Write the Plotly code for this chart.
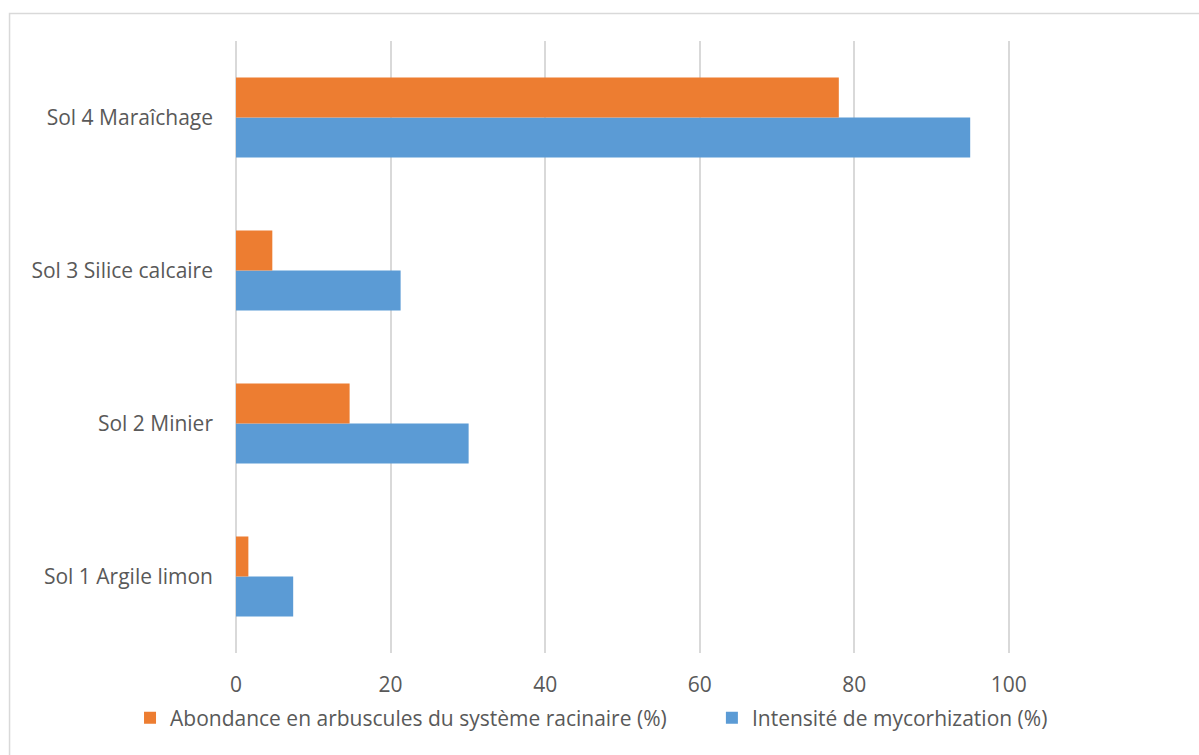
import plotly.graph_objects as go

categories = ["Sol 1 Argile limon", "Sol 2 Minier", "Sol 3 Silice calcaire", "Sol 4 Maraîchage"]
intensite = [7.4, 30.1, 21.3, 95.0]
abondance = [1.6, 14.7, 4.7, 78.0]
x_ticks = [0, 20, 40, 60, 80, 100]

FONT = "Open Sans"
TXT = "#595959"
GRID = "#d9d9d9"
FS = 21

fig = go.Figure()
fig.add_trace(go.Bar(
    y=categories, x=intensite, orientation="h",
    name="Intensité de mycorhization (%)",
    marker=dict(color="#5B9BD5", line=dict(width=0)),
    legend="legend2",
))
fig.add_trace(go.Bar(
    y=categories, x=abondance, orientation="h",
    name="Abondance en arbuscules du système racinaire (%)",
    marker=dict(color="#ED7D31", line=dict(width=0)),
    legend="legend",
))

W, H = 1199, 755
XMAX = 100.15
L, T, B = 236, 41, 102
pw = 773 * XMAX / 100
R = W - L - pw
ph = H - T - B

def px_x(p):
    return (p - L) / pw

def px_y(p):
    return (H - B - p) / ph

legend_common = dict(
    orientation="h", xref="paper", xanchor="left",
    yref="paper", yanchor="middle", y=px_y(718),
    font=dict(family=FONT, size=FS, color=TXT),
    itemwidth=30, bgcolor="rgba(0,0,0,0)",
)

fig.update_layout(
    width=W, height=H,
    margin=dict(l=L, r=R, t=T, b=B, pad=0, autoexpand=False),
    paper_bgcolor="white", plot_bgcolor="white",
    barmode="group", bargap=0.477, bargroupgap=0,
    font=dict(family=FONT, size=FS, color=TXT),
    showlegend=True,
    legend=dict(x=px_x(130), **legend_common),
    legend2=dict(x=px_x(712), **legend_common),
    xaxis=dict(
        range=[0, XMAX], tickvals=x_ticks, ticktext=[str(v) for v in x_ticks],
        showgrid=True, gridcolor=GRID, gridwidth=1.5,
        zeroline=True, zerolinecolor=GRID, zerolinewidth=1.5,
        showline=False, ticks="", ticklabelstandoff=17, tickangle=0,
        automargin=False,
        tickfont=dict(family=FONT, size=FS, color=TXT),
        fixedrange=True,
    ),
    yaxis=dict(
        categoryorder="array", categoryarray=categories,
        showgrid=False, zeroline=False, showline=False, ticks="",
        ticklabelstandoff=22, automargin=False,
        tickfont=dict(family=FONT, size=FS, color=TXT),
        fixedrange=True,
    ),
    shapes=[dict(
        type="rect", xref="paper", yref="paper",
        x0=px_x(9.5), x1=px_x(1210), y0=px_y(770), y1=px_y(13.5),
        line=dict(color=GRID, width=1.5), fillcolor="rgba(0,0,0,0)", layer="below",
    )],
)

fig.write_html("out.html")
